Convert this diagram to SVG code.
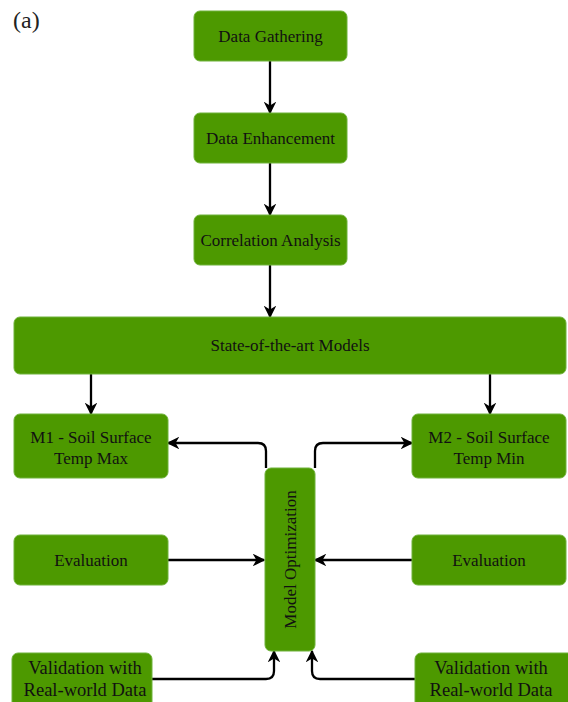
<svg xmlns="http://www.w3.org/2000/svg" width="568" height="702" viewBox="0 0 568 702">
<style>
.box{fill:#4d9900;stroke:#6fb23a;stroke-width:1}
.t{font-family:"Liberation Serif","Times New Roman",serif;font-size:17px;fill:#111;text-anchor:middle}
.v{font-size:18.5px}
.c{fill:none;stroke:#000;stroke-width:2.3;marker-end:url(#ah)}
</style>
<defs>
<marker id="ah" viewBox="0 0 10 10" refX="9" refY="5" markerWidth="5.5" markerHeight="5.5" markerUnits="strokeWidth" orient="auto">
<path d="M0,0 L10,5 L0,10 L3,5 Z" fill="#000"/>
</marker>
</defs>
<rect width="568" height="702" fill="#fff"/>
<text x="13" y="28" font-family="Liberation Serif,serif" font-size="24" fill="#222">(a)</text>
<g id="connectors">
<path class="c" d="M270,61 V113"/>
<path class="c" d="M270,163 V215"/>
<path class="c" d="M270,265 V317"/>
<path class="c" d="M91,374 V414"/>
<path class="c" d="M490,374 V414"/>
<path class="c" d="M266,468 V451 Q266,443 258,443 H168"/>
<path class="c" d="M315,468 V451 Q315,443 323,443 H412"/>
<path class="c" d="M168,560 H264"/>
<path class="c" d="M412,560 H315"/>
<path class="c" d="M152,679 H266 Q274,679 274,671 V651"/>
<path class="c" d="M415,679 H320 Q312,679 312,671 V651"/>
</g>
<g id="data-gathering"><rect class="box" x="194" y="11" width="153" height="50" rx="6"/><text class="t" x="270.5" y="42">Data Gathering</text></g>
<g id="data-enhancement"><rect class="box" x="194" y="113" width="153" height="50" rx="6"/><text class="t" x="270.5" y="144">Data Enhancement</text></g>
<g id="correlation-analysis"><rect class="box" x="194" y="215" width="153" height="50" rx="6"/><text class="t" x="270.5" y="246">Correlation Analysis</text></g>
<g id="sota-models"><rect class="box" x="14" y="317" width="552" height="57" rx="6"/><text class="t" x="290" y="351">State-of-the-art Models</text></g>
<g id="m1"><rect class="box" x="14" y="414" width="154" height="64" rx="6"/><text class="t" x="91" y="443">M1 - Soil Surface</text><text class="t" x="91" y="464">Temp Max</text></g>
<g id="m2"><rect class="box" x="412" y="414" width="154" height="64" rx="6"/><text class="t" x="489" y="443">M2 - Soil Surface</text><text class="t" x="489" y="464">Temp Min</text></g>
<g id="model-optimization"><rect class="box" x="265" y="468" width="50" height="183" rx="6"/><text class="t" transform="translate(295.5,559.5) rotate(-90)">Model Optimization</text></g>
<g id="evaluation-left"><rect class="box" x="14" y="535" width="154" height="50" rx="6"/><text class="t" x="91" y="566">Evaluation</text></g>
<g id="evaluation-right"><rect class="box" x="412" y="535" width="154" height="50" rx="6"/><text class="t" x="489" y="566">Evaluation</text></g>
<g id="validation-left"><rect class="box" x="12" y="653" width="140" height="60" rx="6"/><text class="t v" x="85" y="674">Validation with</text><text class="t v" x="85" y="696">Real-world Data</text></g>
<g id="validation-right"><rect class="box" x="415" y="653" width="160" height="60" rx="6"/><text class="t v" x="491" y="674">Validation with</text><text class="t v" x="491" y="696">Real-world Data</text></g>
</svg>
